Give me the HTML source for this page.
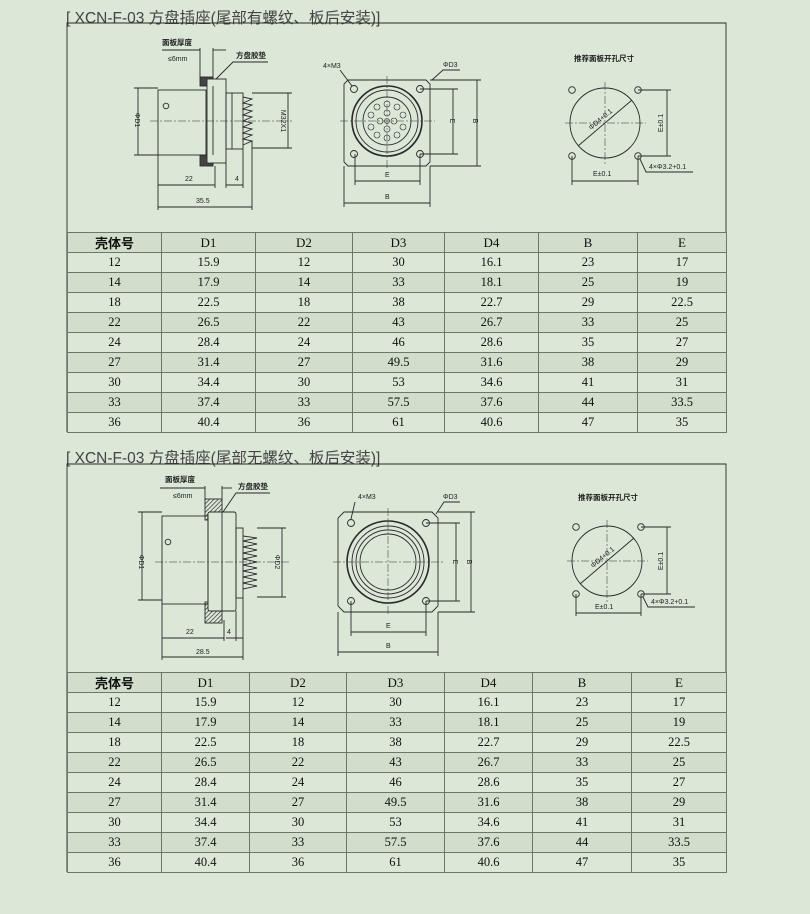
<!DOCTYPE html>
<html><head><meta charset="utf-8"><style>
body{margin:0;background:#dbe7d7;width:810px;height:914px;overflow:hidden;position:relative;font-family:"Liberation Sans","Noto Sans CJK SC",sans-serif}
.t{position:absolute;left:66px;font-size:15.5px;color:#444;letter-spacing:0}
table{position:absolute;left:67px;border-collapse:collapse;font-family:"Liberation Serif","Noto Serif CJK SC",serif;font-size:12.5px;color:#111;table-layout:fixed}
td{border:1px solid #6d766b;height:19px;padding:0;text-align:center}
tr.s td{background:#d0decb}
tr.h td{font-size:13px}
svg{position:absolute;left:0;top:0}
</style></head><body>
<div class="t" style="top:6px">[ XCN-F-03 方盘插座(尾部有螺纹、板后安装)]</div>
<div class="t" style="top:446px">[ XCN-F-03 方盘插座(尾部无螺纹、板后安装)]</div>
<svg width="810" height="914" viewBox="0 0 810 914" font-family="Liberation Sans,Noto Sans CJK SC,sans-serif" font-size="7" fill="none" stroke="#2a2a2a" stroke-width="0.9">
<defs>
<pattern id="hp" width="3" height="3" patternUnits="userSpaceOnUse" patternTransform="rotate(45)"><line x1="0" y1="0" x2="0" y2="3" stroke="#333" stroke-width="1.4"/></pattern>
</defs>
<path d="M67,432 V23 H726 V232"/>
<path d="M67,872 V464 H726 V672"/>
<g>
<text x="162" y="45" fill="#222" stroke="none" font-size="7.5" font-weight="bold">面板厚度</text>
<text x="168" y="61" fill="#222" stroke="none" font-size="7">≤6mm</text>
<line x1="162" y1="50" x2="200" y2="50"/><line x1="213" y1="50" x2="226" y2="50"/>
<line x1="200" y1="48" x2="200" y2="78"/><line x1="213" y1="48" x2="213" y2="78"/>
<text x="236" y="58" fill="#222" stroke="none" font-size="7.5" font-weight="bold">方盘胶垫</text>
<polyline points="268,62 233,62 215,80"/>
<rect x="200" y="77" width="13" height="9" fill="#444"/>
<rect x="200" y="155" width="13" height="11" fill="#444"/>
<rect x="207" y="79" width="19" height="84" fill="#dbe7d7"/>
<line x1="213" y1="86" x2="213" y2="155"/>
<rect x="158" y="90" width="48" height="65"/>
<circle cx="166" cy="106" r="2.8"/>
<rect x="226" y="93" width="17" height="56"/>
<line x1="232" y1="93" x2="232" y2="149"/>
<polyline points="243,97 252,99 243,103 252,105 243,109 252,111 243,115 252,117 243,121 252,123 243,127 252,129 243,133 252,135 243,139 252,141 243,145"/>
<line x1="138" y1="88" x2="138" y2="155"/><line x1="134" y1="88" x2="158" y2="88"/><line x1="134" y1="155" x2="158" y2="155"/>
<text transform="translate(135,120) rotate(90)" text-anchor="middle" fill="#222" stroke="none">ΦD1</text>
<line x1="288" y1="93" x2="288" y2="148"/><line x1="252" y1="93" x2="292" y2="93"/><line x1="252" y1="148" x2="292" y2="148"/>
<text transform="translate(281,121) rotate(90)" text-anchor="middle" fill="#222" stroke="none">M32X1</text>
<line x1="150" y1="121" x2="292" y2="121" stroke-dasharray="8,2,2,2" stroke-width="0.5"/>
<line x1="158" y1="155" x2="158" y2="210"/><line x1="215" y1="166" x2="215" y2="188"/><line x1="226" y1="163" x2="226" y2="188"/><line x1="243" y1="149" x2="243" y2="188"/><line x1="252" y1="141" x2="252" y2="210"/>
<line x1="158" y1="185" x2="215" y2="185"/><line x1="226" y1="185" x2="243" y2="185"/><line x1="158" y1="207" x2="252" y2="207"/>
<text x="185" y="181" fill="#222" stroke="none">22</text><text x="235" y="181" fill="#222" stroke="none">4</text><text x="196" y="203" fill="#222" stroke="none">35.5</text>
</g>
<g>
<path d="M348,80 H426 L430,84 V162 L426,166 H348 L344,162 V84 Z"/>
<circle cx="354" cy="89" r="3.5"/><circle cx="420" cy="89" r="3.5"/><circle cx="354" cy="154" r="3.5"/><circle cx="420" cy="154" r="3.5"/>
<circle cx="387" cy="121" r="35" stroke-width="1.6"/><circle cx="387" cy="121" r="31"/><circle cx="387" cy="121" r="24"/>
<g stroke-width="0.6">
<circle cx="387" cy="104" r="3"/><circle cx="397" cy="107" r="3"/><circle cx="403" cy="115" r="3"/><circle cx="403" cy="127" r="3"/><circle cx="397" cy="135" r="3"/><circle cx="387" cy="138" r="3"/><circle cx="377" cy="135" r="3"/><circle cx="371" cy="127" r="3"/><circle cx="371" cy="115" r="3"/><circle cx="377" cy="107" r="3"/>
<circle cx="387" cy="113" r="3"/><circle cx="394" cy="121" r="3"/><circle cx="387" cy="129" r="3"/><circle cx="380" cy="121" r="3"/><circle cx="387" cy="121" r="2.5"/>
</g>
<line x1="340" y1="121" x2="435" y2="121" stroke-dasharray="8,2,2,2" stroke-width="0.5"/>
<line x1="387" y1="76" x2="387" y2="170" stroke-dasharray="8,2,2,2" stroke-width="0.5"/>
<text x="323" y="68" fill="#222" stroke="none">4×M3</text><line x1="340" y1="70" x2="352" y2="86"/>
<text x="443" y="67" fill="#222" stroke="none">ΦD3</text><polyline points="460,70 443,70 432,80"/>
<line x1="420" y1="89" x2="458" y2="89"/><line x1="420" y1="154" x2="458" y2="154"/><line x1="453" y1="89" x2="453" y2="154"/>
<text transform="translate(450,121) rotate(90)" text-anchor="middle" fill="#222" stroke="none">E</text>
<line x1="430" y1="80" x2="481" y2="80"/><line x1="430" y1="166" x2="481" y2="166"/><line x1="477" y1="80" x2="477" y2="166"/>
<text transform="translate(473,121) rotate(90)" text-anchor="middle" fill="#222" stroke="none">B</text>
<line x1="355" y1="154" x2="355" y2="185"/><line x1="420" y1="154" x2="420" y2="185"/><line x1="355" y1="181" x2="420" y2="181"/>
<line x1="344" y1="166" x2="344" y2="207"/><line x1="430" y1="166" x2="430" y2="207"/><line x1="344" y1="203" x2="430" y2="203"/>
<text x="385" y="177" fill="#222" stroke="none">E</text><text x="385" y="199" fill="#222" stroke="none">B</text>
</g>
<g>
<text x="574" y="61" fill="#222" stroke="none" font-size="7.5" font-weight="bold">推荐面板开孔尺寸</text>
<circle cx="605" cy="123" r="35"/>
<circle cx="572" cy="90" r="3.3"/><circle cx="638" cy="90" r="3.3"/><circle cx="572" cy="156" r="3.3"/><circle cx="638" cy="156" r="3.3"/>
<line x1="565" y1="123" x2="646" y2="123" stroke-dasharray="8,2,2,2" stroke-width="0.5"/>
<line x1="605" y1="82" x2="605" y2="164" stroke-dasharray="8,2,2,2" stroke-width="0.5"/>
<line x1="578" y1="146" x2="632" y2="100"/>
<text transform="translate(602,121) rotate(-40)" text-anchor="middle" fill="#222" stroke="none">ΦD4+0.1</text>
<line x1="638" y1="90" x2="671" y2="90"/><line x1="638" y1="156" x2="671" y2="156"/><line x1="667" y1="90" x2="667" y2="156"/>
<text transform="translate(663,123) rotate(-90)" text-anchor="middle" fill="#222" stroke="none">E±0.1</text>
<line x1="572" y1="156" x2="572" y2="185"/><line x1="638" y1="156" x2="638" y2="185"/><line x1="572" y1="181" x2="638" y2="181"/>
<text x="593" y="176" fill="#222" stroke="none">E±0.1</text>
<polyline points="640,159 646,172 693,172"/><text x="649" y="169" fill="#222" stroke="none">4×Φ3.2+0.1</text>
</g>
<g>
<text x="165" y="482" fill="#222" stroke="none" font-size="7.5" font-weight="bold">面板厚度</text>
<text x="173" y="498" fill="#222" stroke="none" font-size="7">≤6mm</text>
<line x1="160" y1="488" x2="205" y2="488"/><line x1="222" y1="488" x2="232" y2="488"/>
<line x1="205" y1="486" x2="205" y2="500"/><line x1="222" y1="486" x2="222" y2="500"/>
<text x="238" y="489" fill="#222" stroke="none" font-size="7.5" font-weight="bold">方盘胶垫</text>
<polyline points="270,493 236,493 223,512"/>
<rect x="205" y="499" width="17" height="21" fill="url(#hp)"/>
<rect x="205" y="602" width="17" height="21" fill="url(#hp)"/>
<rect x="208" y="512" width="28" height="99" rx="2" fill="#dbe7d7"/>
<line x1="222" y1="512" x2="222" y2="611"/>
<rect x="162" y="516" width="46" height="88"/>
<circle cx="168" cy="542" r="2.8"/>
<rect x="236" y="528" width="7" height="70"/>
<polyline points="243,536 257,538 243,541 257,544 243,547 257,550 243,553 257,556 243,559 257,562 243,565 257,568 243,571 257,574 243,577 257,580 243,583 257,586 243,589"/>
<line x1="142" y1="512" x2="142" y2="600"/><line x1="138" y1="512" x2="162" y2="512"/><line x1="138" y1="600" x2="162" y2="600"/>
<text transform="translate(139,562) rotate(90)" text-anchor="middle" fill="#222" stroke="none">ΦD1</text>
<line x1="282" y1="528" x2="282" y2="597"/><line x1="257" y1="528" x2="286" y2="528"/><line x1="257" y1="597" x2="286" y2="597"/>
<text transform="translate(275,562) rotate(90)" text-anchor="middle" fill="#222" stroke="none">ΦD2</text>
<line x1="155" y1="562" x2="290" y2="562" stroke-dasharray="8,2,2,2" stroke-width="0.5"/>
<line x1="162" y1="604" x2="162" y2="660"/><line x1="224" y1="620" x2="224" y2="641"/><line x1="236" y1="611" x2="236" y2="641"/><line x1="243" y1="598" x2="243" y2="660"/>
<line x1="162" y1="638" x2="224" y2="638"/><line x1="226" y1="638" x2="243" y2="638"/><line x1="162" y1="657" x2="243" y2="657"/>
<text x="186" y="634" fill="#222" stroke="none">22</text><text x="227" y="634" fill="#222" stroke="none">4</text><text x="196" y="654" fill="#222" stroke="none">28.5</text>
</g>
<g>
<path d="M344,512 H432 L438,518 V606 L432,612 H344 L338,606 V518 Z"/>
<circle cx="351" cy="523" r="3.5"/><circle cx="426" cy="523" r="3.5"/><circle cx="351" cy="601" r="3.5"/><circle cx="426" cy="601" r="3.5"/>
<circle cx="388" cy="562" r="41" stroke-width="1.6"/><circle cx="388" cy="562" r="36"/><circle cx="388" cy="562" r="32"/><circle cx="388" cy="562" r="28"/>
<line x1="333" y1="562" x2="443" y2="562" stroke-dasharray="8,2,2,2" stroke-width="0.5"/>
<line x1="388" y1="508" x2="388" y2="616" stroke-dasharray="8,2,2,2" stroke-width="0.5"/>
<text x="358" y="499" fill="#222" stroke="none">4×M3</text><line x1="355" y1="502" x2="351" y2="519"/>
<text x="443" y="499" fill="#222" stroke="none">ΦD3</text><polyline points="460,502 444,502 436,514"/>
<line x1="426" y1="523" x2="460" y2="523"/><line x1="426" y1="601" x2="460" y2="601"/><line x1="456" y1="523" x2="456" y2="601"/>
<text transform="translate(453,562) rotate(90)" text-anchor="middle" fill="#222" stroke="none">E</text>
<line x1="438" y1="512" x2="475" y2="512"/><line x1="438" y1="612" x2="475" y2="612"/><line x1="471" y1="512" x2="471" y2="612"/>
<text transform="translate(467,562) rotate(90)" text-anchor="middle" fill="#222" stroke="none">B</text>
<line x1="351" y1="601" x2="351" y2="636"/><line x1="426" y1="601" x2="426" y2="636"/><line x1="351" y1="632" x2="426" y2="632"/>
<line x1="338" y1="612" x2="338" y2="656"/><line x1="438" y1="612" x2="438" y2="656"/><line x1="338" y1="652" x2="438" y2="652"/>
<text x="386" y="628" fill="#222" stroke="none">E</text><text x="386" y="648" fill="#222" stroke="none">B</text>
</g>
<g>
<text x="578" y="500" fill="#222" stroke="none" font-size="7.5" font-weight="bold">推荐面板开孔尺寸</text>
<circle cx="607" cy="561" r="35"/>
<circle cx="576" cy="527" r="3.3"/><circle cx="641" cy="527" r="3.3"/><circle cx="576" cy="594" r="3.3"/><circle cx="641" cy="594" r="3.3"/>
<line x1="567" y1="561" x2="648" y2="561" stroke-dasharray="8,2,2,2" stroke-width="0.5"/>
<line x1="607" y1="520" x2="607" y2="602" stroke-dasharray="8,2,2,2" stroke-width="0.5"/>
<line x1="580" y1="584" x2="634" y2="538"/>
<text transform="translate(604,559) rotate(-40)" text-anchor="middle" fill="#222" stroke="none">ΦD4+0.1</text>
<line x1="641" y1="527" x2="671" y2="527"/><line x1="641" y1="594" x2="671" y2="594"/><line x1="667" y1="527" x2="667" y2="594"/>
<text transform="translate(663,561) rotate(-90)" text-anchor="middle" fill="#222" stroke="none">E±0.1</text>
<line x1="576" y1="594" x2="576" y2="616"/><line x1="641" y1="594" x2="641" y2="616"/><line x1="576" y1="613" x2="641" y2="613"/>
<text x="595" y="609" fill="#222" stroke="none">E±0.1</text>
<polyline points="643,597 648,607 695,607"/><text x="651" y="604" fill="#222" stroke="none">4×Φ3.2+0.1</text>
</g>
</svg>
<table style="top:232px;width:659px">
<colgroup><col style="width:94px"><col style="width:94px"><col style="width:97px"><col style="width:92px"><col style="width:94px"><col style="width:99px"><col style="width:89px"></colgroup>
<tr class="s h"><td style="font-family:'Noto Sans CJK SC',sans-serif;font-weight:bold">壳体号</td><td>D1</td><td>D2</td><td>D3</td><td>D4</td><td>B</td><td>E</td></tr>
<tr><td>12</td><td>15.9</td><td>12</td><td>30</td><td>16.1</td><td>23</td><td>17</td></tr>
<tr class="s"><td>14</td><td>17.9</td><td>14</td><td>33</td><td>18.1</td><td>25</td><td>19</td></tr>
<tr><td>18</td><td>22.5</td><td>18</td><td>38</td><td>22.7</td><td>29</td><td>22.5</td></tr>
<tr class="s"><td>22</td><td>26.5</td><td>22</td><td>43</td><td>26.7</td><td>33</td><td>25</td></tr>
<tr><td>24</td><td>28.4</td><td>24</td><td>46</td><td>28.6</td><td>35</td><td>27</td></tr>
<tr class="s"><td>27</td><td>31.4</td><td>27</td><td>49.5</td><td>31.6</td><td>38</td><td>29</td></tr>
<tr><td>30</td><td>34.4</td><td>30</td><td>53</td><td>34.6</td><td>41</td><td>31</td></tr>
<tr class="s"><td>33</td><td>37.4</td><td>33</td><td>57.5</td><td>37.6</td><td>44</td><td>33.5</td></tr>
<tr><td>36</td><td>40.4</td><td>36</td><td>61</td><td>40.6</td><td>47</td><td>35</td></tr>
</table>
<table style="top:672px;width:659px">
<colgroup><col style="width:94px"><col style="width:88px"><col style="width:97px"><col style="width:98px"><col style="width:88px"><col style="width:99px"><col style="width:95px"></colgroup>
<tr class="s h"><td style="font-family:'Noto Sans CJK SC',sans-serif;font-weight:bold">壳体号</td><td>D1</td><td>D2</td><td>D3</td><td>D4</td><td>B</td><td>E</td></tr>
<tr><td>12</td><td>15.9</td><td>12</td><td>30</td><td>16.1</td><td>23</td><td>17</td></tr>
<tr class="s"><td>14</td><td>17.9</td><td>14</td><td>33</td><td>18.1</td><td>25</td><td>19</td></tr>
<tr><td>18</td><td>22.5</td><td>18</td><td>38</td><td>22.7</td><td>29</td><td>22.5</td></tr>
<tr class="s"><td>22</td><td>26.5</td><td>22</td><td>43</td><td>26.7</td><td>33</td><td>25</td></tr>
<tr><td>24</td><td>28.4</td><td>24</td><td>46</td><td>28.6</td><td>35</td><td>27</td></tr>
<tr class="s"><td>27</td><td>31.4</td><td>27</td><td>49.5</td><td>31.6</td><td>38</td><td>29</td></tr>
<tr><td>30</td><td>34.4</td><td>30</td><td>53</td><td>34.6</td><td>41</td><td>31</td></tr>
<tr class="s"><td>33</td><td>37.4</td><td>33</td><td>57.5</td><td>37.6</td><td>44</td><td>33.5</td></tr>
<tr><td>36</td><td>40.4</td><td>36</td><td>61</td><td>40.6</td><td>47</td><td>35</td></tr>
</table>
</body></html>
